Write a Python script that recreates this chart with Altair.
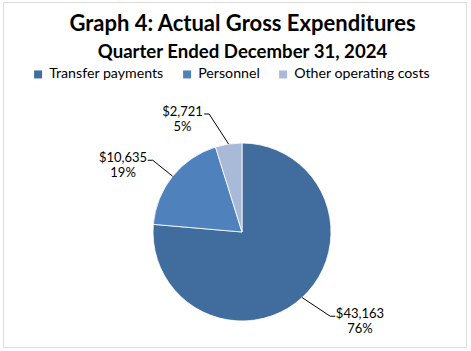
import math
import altair as alt
import pandas as pd

# ---- data ----
categories = ["Transfer payments", "Personnel", "Other operating costs"]
amounts = [43163, 10635, 2721]
colors = ["#416C9E", "#4F81BD", "#A9BAD9"]

total = sum(amounts)
value_labels = [f"${v:,}" for v in amounts]
percent_labels = [f"{round(100 * v / total)}%" for v in amounts]

# ---- layout (styles / positions, not data) ----
W, H = 471, 351
PAD = {"left": 3, "top": 2, "right": 5, "bottom": 4}
PW = W - PAD["left"] - PAD["right"]
PH = H - PAD["top"] - PAD["bottom"]
CX, CY, R = 239, 230, 89          # pie centre and radius inside the frame
FONT = "Lato"
# per-label leader nudges: (angle nudge in degrees, elbow radius)
nudges = [(-3.8, 122), (0.0, 114.5), (-6.9, 122.5)]
STUB, GAP, LINE_H = 5, 3, 15

slices = pd.DataFrame({"category": categories, "amount": amounts,
                       "rank": list(range(len(categories)))})

line_rows, text_rows = [], []
cum = 0.0
for i, (cat, v) in enumerate(zip(categories, amounts)):
    frac = v / total
    mid = 2 * math.pi * (cum + frac / 2)
    cum += frac
    sx, sy = CX + R * math.sin(mid), CY - R * math.cos(mid)
    a = mid + math.radians(nudges[i][0])
    ex, ey = CX + nudges[i][1] * math.sin(a), CY - nudges[i][1] * math.cos(a)
    side = 1 if math.sin(mid) > 0 else -1
    tx_end = ex + side * STUB
    for seq, (px, py) in enumerate([(sx, sy), (ex, ey), (tx_end, ey)]):
        line_rows.append({"category": cat, "seq": seq, "px": px, "py": py})
    half = len(value_labels[i]) * 3.1
    text_rows.append({"category": cat,
                      "tx": tx_end + side * (GAP + half),
                      "ty1": ey - 2, "ty2": ey - 2 + LINE_H,
                      "vlabel": value_labels[i], "plabel": percent_labels[i]})

lines_df = pd.DataFrame(line_rows)
text_df = pd.DataFrame(text_rows)

xs = alt.Scale(domain=[0, PW], nice=False, zero=False)
ys = alt.Scale(domain=[0, PH], nice=False, zero=False, reverse=True)

pie = alt.Chart(slices).mark_arc(stroke="white", strokeWidth=0.8).encode(
    theta=alt.Theta("amount:Q", stack=True),
    color=alt.Color(
        "category:N",
        scale=alt.Scale(domain=categories, range=colors),
        legend=alt.Legend(
            title=None, orient="none", legendX=28, legendY=65,
            direction="horizontal", symbolType="square", symbolSize=64,
            symbolStrokeWidth=0, labelFont=FONT, labelFontSize=14.2,
            labelColor="black", labelOffset=4, columnPadding=16,
        ),
    ),
    order=alt.Order("rank:Q"),
    x=alt.value(CX), y=alt.value(CY), radius=alt.value(R),
)

leaders = alt.Chart(lines_df).mark_line(color="black", strokeWidth=1).encode(
    x=alt.X("px:Q", scale=xs, axis=None),
    y=alt.Y("py:Q", scale=ys, axis=None),
    detail="category:N",
    order="seq:Q",
)

vals = alt.Chart(text_df).mark_text(
    font=FONT, fontSize=13, color="black", align="center", baseline="middle"
).encode(
    x=alt.X("tx:Q", scale=xs, axis=None),
    y=alt.Y("ty1:Q", scale=ys, axis=None),
    text="vlabel:N",
)
pcts = alt.Chart(text_df).mark_text(
    font=FONT, fontSize=13, color="black", align="center", baseline="middle"
).encode(
    x=alt.X("tx:Q", scale=xs, axis=None),
    y=alt.Y("ty2:Q", scale=ys, axis=None),
    text="plabel:N",
)

chart = alt.layer(pie, leaders, vals, pcts).properties(
    width=PW, height=PH,
    autosize=alt.AutoSizeParams(type="none"),
    padding=PAD,
    title=alt.Title(
        text="Graph 4: Actual Gross Expenditures",
        subtitle="Quarter Ended December 31, 2024",
        font=FONT, fontSize=22, fontWeight="bold", color="black",
        subtitleFont=FONT, subtitleFontSize=18.6, subtitleFontWeight="bold",
        subtitleColor="black", subtitlePadding=7,
        anchor="middle", frame="group", dx=8, dy=65,
    ),
).configure_view(stroke="#878787", strokeWidth=1).configure(background="white")

chart.save("out.html", embed_options={"renderer": "svg", "actions": False})
